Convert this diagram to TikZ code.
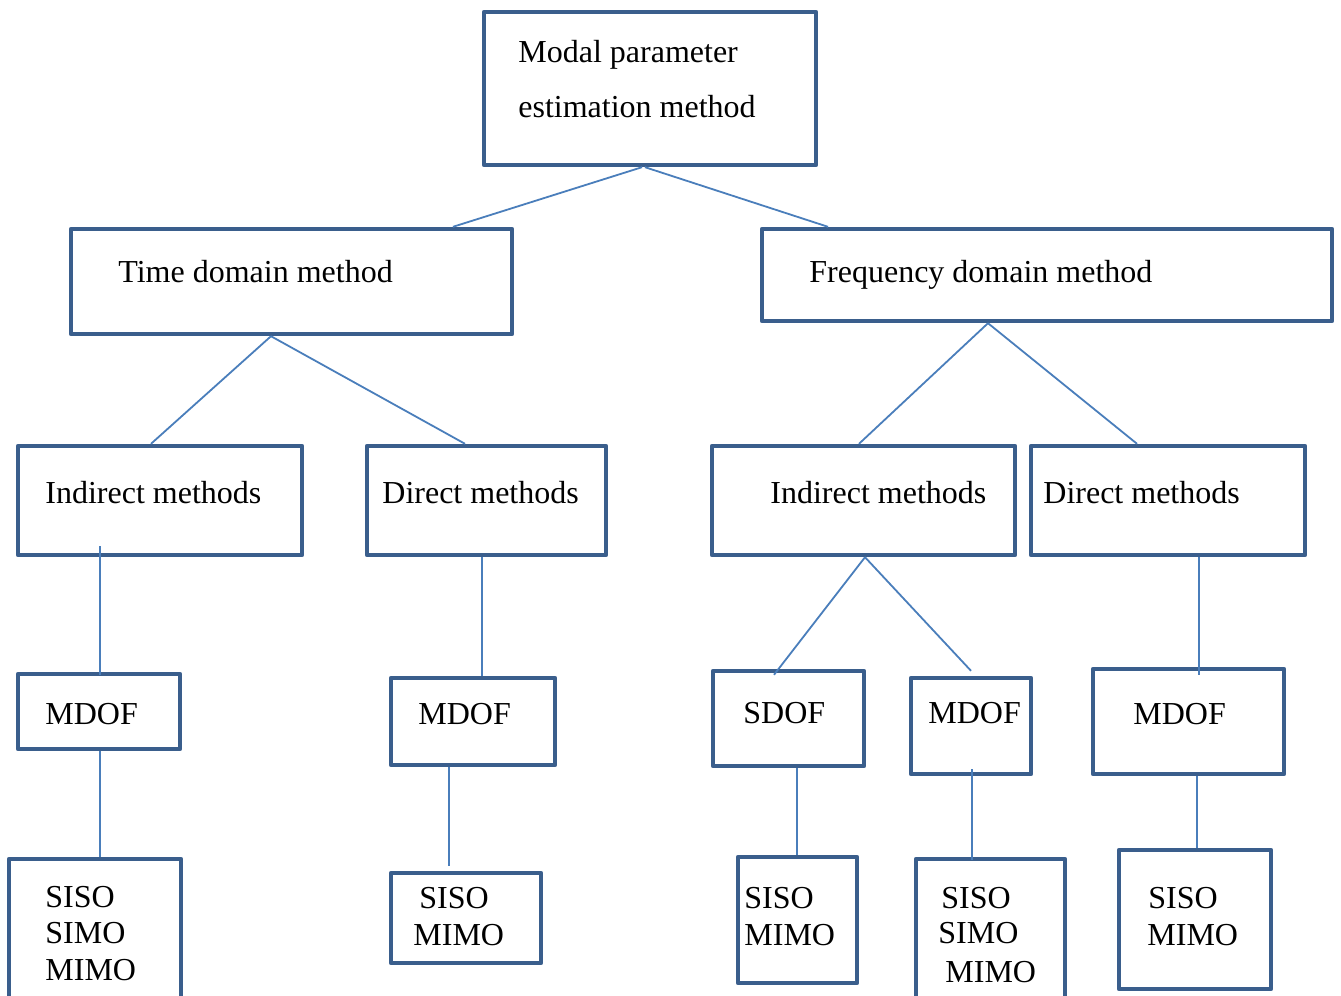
\documentclass[tikz,border=0pt]{standalone}
\usepackage{fontspec}
\setmainfont{Liberation Serif}
\newfontfamily\tnr{Liberation Serif}
\usetikzlibrary{calc}
\definecolor{boxblue}{HTML}{3A5E8C}
\definecolor{lineblue}{HTML}{4A7EBB}
\tikzset{
  boxnode/.style={draw=boxblue, line width=2.2pt, line join=round, rectangle, inner sep=0pt, fill=none},
  txt/.style={anchor=base west, inner sep=0pt, font=\tnr\fontsize{16}{18}\selectfont},
  link/.style={draw=lineblue, line width=0.9pt}
}
\newcommand{\bx}[5]{% name, x1, x2, y1, y2 (px)
  \node[boxnode, minimum width={(#3-#2)*0.5pt}, minimum height={(#5-#4)*0.5pt}] (#1) at ({(#2+#3)/2},{(#4+#5)/2}) {};}
\begin{document}
\begin{tikzpicture}[x=0.5pt,y=-0.5pt]
\useasboundingbox (0,0) rectangle (1341,996);
% boxes
\bx{top}{484}{816}{12}{165}
\bx{time}{71}{512}{229}{334}
\bx{freq}{762}{1332}{229}{321}
\bx{indL}{18}{302}{446}{555}
\bx{dirL}{367}{606}{446}{555}
\bx{indR}{712}{1015}{446}{555}
\bx{dirR}{1031}{1305}{446}{555}
\bx{mdofA}{18}{180}{674}{749}
\bx{mdofB}{391}{555}{678}{765}
\bx{sdof}{713}{864}{671}{766}
\bx{mdofC}{911}{1031}{678}{774}
\bx{mdofD}{1093}{1284}{669}{774}
\bx{listA}{9}{181}{859}{1030}
\bx{listB}{391}{541}{873}{963}
\bx{listC}{738}{857}{857}{983}
\bx{listD}{916}{1065}{859}{1030}
\bx{listE}{1119}{1271}{850}{989}
% texts
\node[txt] (t1) at (518,62) {Modal parameter};
\node[txt] (t2) at (518,117) {estimation method};
\node[txt] (t3) at (118,282) {Time domain method};
\node[txt] (t4) at (809,282) {Frequency domain method};
\node[txt] (t5) at (45,503) {Indirect methods};
\node[txt] (t6) at (382,503) {Direct methods};
\node[txt] (t7) at (770,503) {Indirect methods};
\node[txt] (t8) at (1043,503) {Direct methods};
\node[txt] (t9) at (45,724) {MDOF};
\node[txt] (t10) at (418,724) {MDOF};
\node[txt] (t11) at (743,723) {SDOF};
\node[txt] (t12) at (928,723) {MDOF};
\node[txt] (t13) at (1133,724) {MDOF};
\node[txt] (a1) at (45,907) {SISO};
\node[txt] (a2) at (45,943) {SIMO};
\node[txt] (a3) at (45,980) {MIMO};
\node[txt] (b1) at (419,908) {SISO};
\node[txt] (b2) at (413,945) {MIMO};
\node[txt] (c1) at (744,908) {SISO};
\node[txt] (c2) at (744,945) {MIMO};
\node[txt] (d1) at (941,908) {SISO};
\node[txt] (d2) at (938,943) {SIMO};
\node[txt] (d3) at (945,982) {MIMO};
\node[txt] (e1) at (1148,908) {SISO};
\node[txt] (e2) at (1147,945) {MIMO};
% connectors
\draw[link] (top.south -| 642,0) -- (time.north -| 453,0);
\draw[link] (top.south -| 645,0) -- (freq.north -| 828,0);
\draw[link] (time.south -| 271,0) -- (indL.north -| 151,0);
\draw[link] (time.south -| 271,0) -- (dirL.north -| 465,0);
\draw[link] (freq.south -| 988,0) -- (indR.north -| 859,0);
\draw[link] (freq.south -| 988,0) -- (dirR.north -| 1137,0);
\draw[link] ($(indL.south -| 100,0)+(0,-11)$) -- ($(mdofA.north -| 100,0)+(0,3)$);
\draw[link] (mdofA.south -| 100,0) -- (listA.north -| 100,0);
\draw[link] (dirL.south -| 482,0) -- (mdofB.north -| 482,0);
\draw[link] (mdofB.south -| 449,0) -- ($(listB.north -| 449,0)+(0,-5)$);
\draw[link] (indR.south -| 865,0) -- ($(sdof.north -| 774,0)+(0,6)$);
\draw[link] (indR.south -| 865,0) -- ($(mdofC.north -| 971,0)+(0,-5)$);
\draw[link] (sdof.south -| 797,0) -- (listC.north -| 797,0);
\draw[link] ($(mdofC.south -| 972,0)+(0,-7)$) -- ($(listD.north -| 972,0)+(0,3)$);
\draw[link] (dirR.south -| 1199,0) -- ($(mdofD.north -| 1199,0)+(0,8)$);
\draw[link] (mdofD.south -| 1197,0) -- (listE.north -| 1197,0);
\end{tikzpicture}
\end{document}
